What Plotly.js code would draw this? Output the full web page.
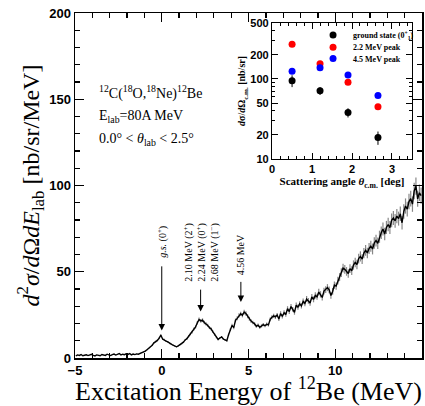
<!DOCTYPE html>
<html>
<head>
<meta charset="utf-8">
<script src="https://cdn.plot.ly/plotly-3.0.1.min.js"></script>
<style>html,body{margin:0;padding:0;background:#fff;}#chart{width:425px;height:406px;}</style>
</head>
<body>
<div id="chart"></div>
<script>
// Spectrum: bins of 0.1 MeV starting at -4.95 MeV (nb/sr/MeV)
const spectrumStart = -4.95;
const spectrumStep = 0.1;
const spectrumValues = [
  1.2,1.8,1.5,2.0,1.3,1.7,1.9,1.4,1.6,2.1,
  1.5,1.2,1.8,1.6,1.3,2.0,1.7,1.5,2.2,1.8,
  1.4,1.9,2.3,1.7,2.0,2.6,1.8,2.2,1.9,2.4,
  2.1,2.6,1.8,2.3,2.0,2.4,2.2,2.6,3.0,3.4,
  4.0,4.8,5.5,6.6,7.4,8.8,9.5,10.2,11.5,13.2,
  11.0,10.6,9.8,9.3,8.4,8.0,7.4,6.9,6.5,7.0,
  7.6,8.3,9.2,10.5,11.2,12.6,13.9,15.0,16.8,18.0,
  20.4,22.3,21.5,21.9,20.6,19.8,18.9,17.6,16.8,15.2,
  13.6,12.0,10.8,11.6,12.2,11.0,10.4,10.0,13.5,16.4,
  18.9,17.6,21.8,23.0,24.7,25.6,24.8,26.6,25.8,24.2,
  22.8,21.4,20.6,19.8,18.4,19.0,17.8,18.6,19.3,18.7,
  19.6,19.2,22.4,23.6,24.4,23.8,24.9,22.6,25.8,24.1,
  26.3,25.2,28.6,26.9,29.8,28.2,26.4,30.6,29.5,31.4,
  30.2,32.8,31.6,34.2,33.1,31.9,35.4,34.0,36.3,35.5,
  38.2,36.9,35.1,38.8,39.6,40.8,39.5,36.2,38.6,42.3,
  41.7,44.8,46.9,49.5,52.1,51.4,50.2,49.0,51.8,50.6,
  53.9,55.4,54.2,57.6,58.9,57.3,60.8,62.4,60.9,63.5,
  64.8,63.2,66.7,68.1,66.5,70.3,72.6,74.8,71.9,75.7,
  77.4,75.6,79.8,81.2,79.5,82.3,80.8,83.6,78.4,84.9,
  88.1,86.3,90.7,92.4,89.2,96.8,99.6,92.3,95.8,94.2
];

// Inset: angular distributions
const angles = [0.5, 1.2, 1.9, 2.65];
const gsValues = [95, 71, 38, 18.5];
const gsErrors = [16, 8, 5, 3.5];
const peak22Values = [272, 155, 91, 45];
const peak45Values = [125, 138, 112, 62];
const legendNames = ['ground state (0<sup>+</sup><sub>1</sub>)', '2.2 MeV peak', '4.5 MeV peak'];

// Peak markers
const peakLabels = ['<i>g.s.</i> (0<sup>+</sup>)',
  '2.10 MeV (2<sup>+</sup>)<br>2.24 MeV (0<sup>+</sup>)<br>2.68 MeV (1<sup>−</sup>)',
  '4.56 MeV'];
const peakEnergies = [0, 2.24, 4.56];
const arrowTips = [16, 27, 32.5];
const arrowTails = [54, 40.5, 45];
const labelCenters = [67.2, 61.4, 60];

const serif = 'Liberation Serif';
const sans = 'Liberation Sans';

const traces = [
  {
    type: 'scatter', mode: 'lines',
    x0: spectrumStart, dx: spectrumStep, y: spectrumValues,
    line: {color: '#000', width: 1.4},
    error_y: {type: 'percent', value: 5, color: '#888', thickness: 1.2, width: 0},
    showlegend: false, xaxis: 'x', yaxis: 'y', hoverinfo: 'skip'
  },
  {
    type: 'scatter', mode: 'markers', x: angles, y: gsValues, name: legendNames[0],
    marker: {color: '#000', size: 7},
    error_y: {type: 'data', array: gsErrors, color: '#000', thickness: 1, width: 0},
    xaxis: 'x2', yaxis: 'y2', legend: 'legend'
  },
  {
    type: 'scatter', mode: 'markers', x: angles, y: peak22Values, name: legendNames[1],
    marker: {color: '#ff0000', size: 7}, xaxis: 'x2', yaxis: 'y2', legend: 'legend2'
  },
  {
    type: 'scatter', mode: 'markers', x: angles, y: peak45Values, name: legendNames[2],
    marker: {color: '#0000ff', size: 7}, xaxis: 'x2', yaxis: 'y2', legend: 'legend3'
  }
];

const annotations = [
  {x: -3.75, y: 154, xref: 'x', yref: 'y', xanchor: 'left', showarrow: false,
   text: '<sup>12</sup>C(<sup>18</sup>O,<sup>18</sup>Ne)<sup>12</sup>Be', font: {family: serif, size: 14, color: '#000'}},
  {x: -3.75, y: 140, xref: 'x', yref: 'y', xanchor: 'left', showarrow: false,
   text: 'E<sub>lab</sub>=80A MeV', font: {family: serif, size: 14, color: '#000'}},
  {x: -3.75, y: 126.4, xref: 'x', yref: 'y', xanchor: 'left', showarrow: false,
   text: '0.0° &lt; <i>θ</i><sub>lab</sub> &lt; 2.5°', font: {family: serif, size: 14, color: '#000'}}
];
for (let i = 0; i < peakEnergies.length; i++) {
  annotations.push({
    x: peakEnergies[i], y: arrowTips[i], xref: 'x', yref: 'y',
    ax: peakEnergies[i], ay: arrowTails[i], axref: 'x', ayref: 'y',
    text: '', showarrow: true, arrowhead: 2, arrowsize: 1.3, arrowwidth: 1, arrowcolor: '#000'
  });
  annotations.push({
    x: peakEnergies[i], y: labelCenters[i], xref: 'x', yref: 'y',
    xanchor: 'center', yanchor: 'middle', textangle: -90, showarrow: false,
    text: peakLabels[i], font: {family: serif, size: 10, color: '#000'}
  });
}

const axisCommon = {
  showline: true, linecolor: '#000', linewidth: 1.5, mirror: 'allticks',
  ticks: 'inside', tickcolor: '#000', zeroline: false, showgrid: false
};

function legendAt(yPaper) {
  return {x: 0.686, y: yPaper, xanchor: 'left', yanchor: 'middle', bgcolor: 'rgba(0,0,0,0)',
    borderwidth: 0, font: {family: serif, size: 8, color: '#000', weight: 'bold'}, itemwidth: 30};
}

const layout = {
  width: 425, height: 406,
  margin: {l: 75, r: 3, t: 13, b: 48},
  paper_bgcolor: '#fff', plot_bgcolor: '#fff',
  showlegend: true,
  legend: legendAt(0.936),
  legend2: legendAt(0.901),
  legend3: legendAt(0.868),
  xaxis: Object.assign({}, axisCommon, {
    domain: [0, 1], range: [-5, 15], dtick: 5, tick0: 0, ticklen: 9, tickwidth: 1.3,
    minor: {dtick: 1, ticklen: 5, ticks: 'inside', tickcolor: '#000'},
    tickfont: {family: sans, size: 13, color: '#000', weight: 'bold'},
    title: {text: 'Excitation Energy of <sup>12</sup>Be (MeV)', font: {family: serif, size: 26, color: '#000'}, standoff: 0},
    anchor: 'y'
  }),
  yaxis: Object.assign({}, axisCommon, {
    domain: [0, 1], range: [0, 200], dtick: 50, ticklen: 9, tickwidth: 1.3,
    minor: {dtick: 10, ticklen: 5, ticks: 'inside', tickcolor: '#000'},
    tickfont: {family: sans, size: 13, color: '#000', weight: 'bold'},
    title: {text: '<i>d</i><sup>2</sup><i>σ</i>/<i>d</i>Ω<i>dE</i><sub>lab</sub> [nb/sr/MeV]', font: {family: serif, size: 24, color: '#000'}, standoff: 3},
    anchor: 'x'
  }),
  xaxis2: Object.assign({}, axisCommon, {
    domain: [0.568, 0.971], range: [0, 3.5], dtick: 1, tick0: 0, ticklen: 6, linewidth: 1.2,
    minor: {dtick: 0.2, ticklen: 3, ticks: 'inside', tickcolor: '#000'},
    tickfont: {family: sans, size: 11, color: '#000', weight: 'bold'},
    title: {text: 'Scattering angle <i>θ</i><sub>c.m.</sub> [deg]', font: {family: serif, size: 11, color: '#000', weight: 'bold'}, standoff: 2},
    anchor: 'y2'
  }),
  yaxis2: Object.assign({}, axisCommon, {
    domain: [0.577, 0.971], type: 'log', range: [1, Math.log10(500)], ticklen: 6, linewidth: 1.2,
    tickvals: [10, 20, 50, 100, 200, 500], ticktext: ['10', '20', '50', '100', '200', '500'],
    minor: {tickvals: [30, 40, 60, 70, 80, 90, 300, 400], ticklen: 3, ticks: 'inside', tickcolor: '#000'},
    tickfont: {family: sans, size: 11, color: '#000', weight: 'bold'},
    title: {text: '<i>d</i>σ/<i>d</i>Ω<sub>c.m.</sub> [nb/sr]', font: {family: serif, size: 10, color: '#000', weight: 'bold'}, standoff: 2},
    anchor: 'x2'
  }),
  annotations: annotations
};

Plotly.newPlot('chart', traces, layout, {staticPlot: true, displayModeBar: false});
</script>
</body>
</html>
